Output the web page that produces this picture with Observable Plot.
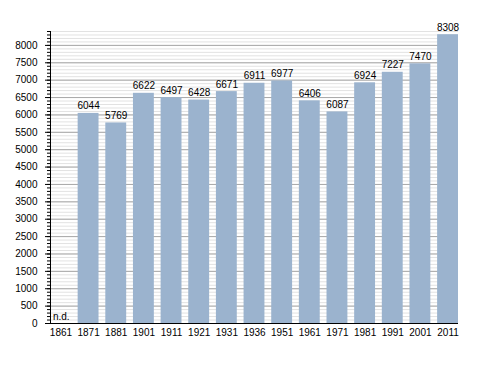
<!DOCTYPE html>
<html>
<head>
<meta charset="utf-8">
<script src="https://cdn.jsdelivr.net/npm/d3@7"></script>
<script src="https://cdn.jsdelivr.net/npm/@observablehq/plot@0.6"></script>
<style>
  html, body { margin: 0; padding: 0; background: #fff; }
  svg { display: block; }
</style>
</head>
<body>
<div id="chart"></div>
<script>
const years = ["1861","1871","1881","1901","1911","1921","1931","1936","1951","1961","1971","1981","1991","2001","2011"];
const population = [null, 6044, 5769, 6622, 6497, 6428, 6671, 6911, 6977, 6406, 6087, 6924, 7227, 7470, 8308];
const majorTicks = d3.range(0, 8001, 500);
const minorTicks = d3.range(0, 8401, 100);
const missingLabel = "n.d.";

const data = years.map((y, i) => ({year: y, value: population[i]}));
const present = data.filter(d => d.value != null);
const missing = data.filter(d => d.value == null);

const font = "Liberation Sans, Arial, sans-serif";

const chart = Plot.plot({
  width: 488,
  height: 373,
  marginLeft: 50,
  marginRight: 30,
  marginTop: 31,
  marginBottom: 50,
  style: {fontFamily: font, fontSize: "10px", background: "#fff", color: "#000"},
  x: {type: "band", domain: years, paddingInner: 0.245, paddingOuter: 0, round: false, label: null, axis: null},
  y: {domain: [0, 8400], label: null, axis: null},
  marks: [
    Plot.gridY(minorTicks, {stroke: "#e2e2e2", strokeOpacity: 1}),
    Plot.gridY(majorTicks, {stroke: "#a8a8a8", strokeOpacity: 1}),
    Plot.barY(present, {x: "year", y: "value", fill: "#9bb3ce"}),
    Plot.text(present, {x: "year", y: "value", text: d => String(d.value), lineAnchor: "bottom", dy: -4, fontSize: 10, fill: "#000"}),
    Plot.text(missing, {x: "year", y: 0, text: () => missingLabel, textAnchor: "start", lineAnchor: "bottom", dx: -8, dy: -4, fontSize: 10, fill: "#000"}),
    Plot.axisY({ticks: minorTicks, tickSize: 3, text: null, stroke: "#000"}),
    Plot.axisY({ticks: majorTicks, tickSize: 5, tickPadding: 8, tickFormat: d => String(d), fontSize: 10, stroke: "#000", fill: "#000", label: null}),
    Plot.axisX({tickSize: 0, tickPadding: 5, fontSize: 10, fill: "#000", label: null}),
    Plot.ruleY([0], {stroke: "#000"}),
    Plot.frame({anchor: "left", stroke: "#000"})
  ]
});
document.getElementById("chart").appendChild(chart);
</script>
</body>
</html>
